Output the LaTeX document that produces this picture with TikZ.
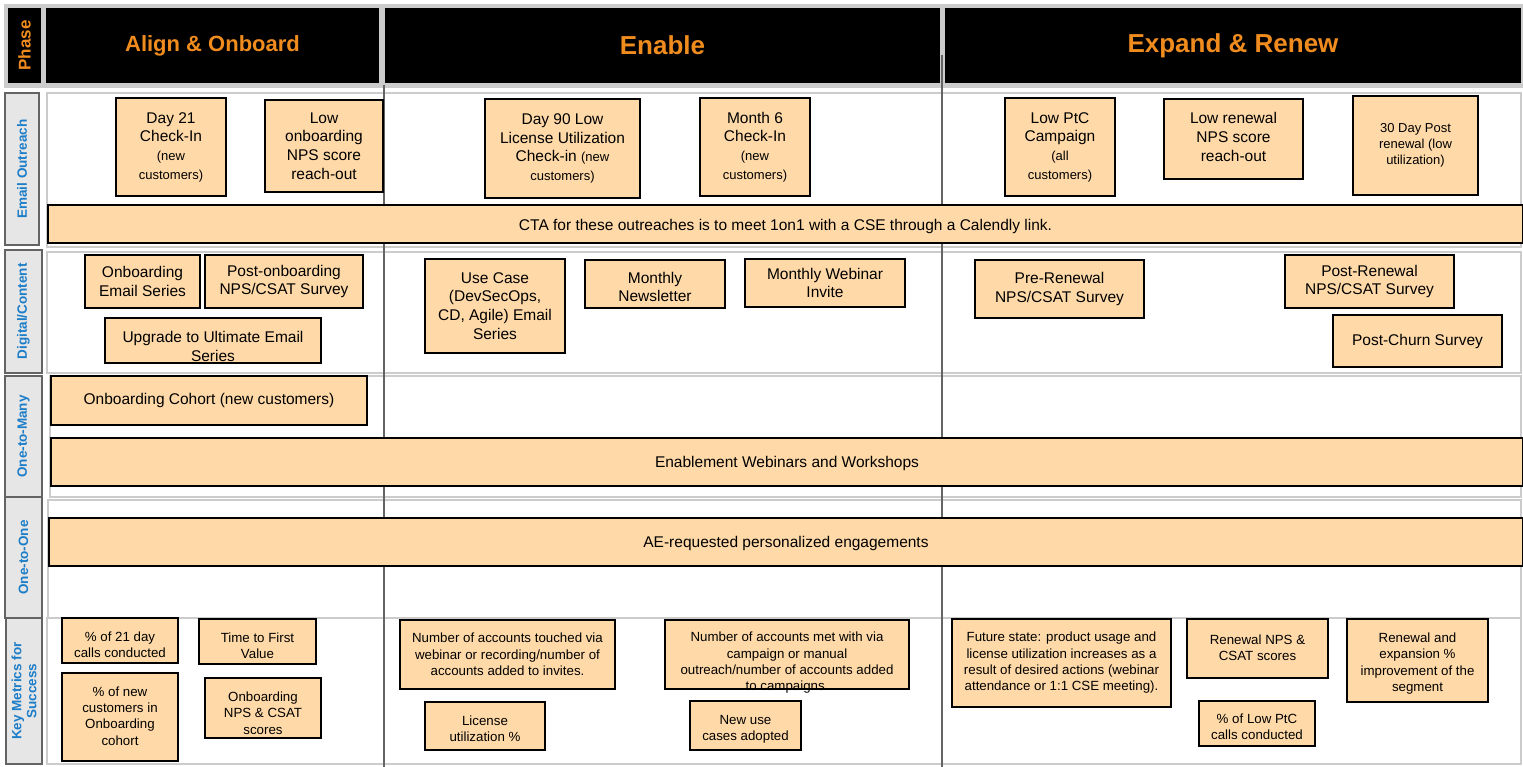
\documentclass[tikz,border=0pt]{standalone}
\usepackage{fontspec}
\setmainfont{Liberation Sans}
\usetikzlibrary{fit}
\definecolor{peach}{RGB}{255,218,168}
\definecolor{hdrorange}{RGB}{240,140,30}
\definecolor{laneblue}{RGB}{28,125,200}
\definecolor{framegray}{RGB}{204,204,204}
\definecolor{linegray}{RGB}{100,100,100}
\definecolor{lanefill}{RGB}{230,230,230}
\newcommand\txA{\fontsize{15.5}{18.7}\selectfont}
\newcommand\txS{\fontsize{13}{16}\selectfont}
\newcommand\txK{\fontsize{13.3}{16.3}\selectfont}
\newcommand\bx[7]{%
  \node[box, fit={(#2,#3) (#4,#5)}] (#1) {};
  \node[txt,#6] (#1-t) at (#1.center) {#7};}
\begin{document}
\begin{tikzpicture}[x=1pt,y=-1pt,
  box/.style={draw=black, fill=peach, line width=1.1pt, inner sep=0pt},
  txt/.style={align=center, inner sep=0pt, font=\txA},
  hdrcell/.style={fill=black, inner sep=0pt},
  hdrtxt/.style={text=hdrorange, font=\bfseries\fontsize{26}{30}\selectfont, inner sep=0pt},
  lanelbl/.style={draw=linegray, fill=lanefill, line width=2.2pt, inner sep=0pt},
  lanetxt/.style={text=laneblue, font=\bfseries\fontsize{13.5}{15}\selectfont, rotate=90, align=center, inner sep=0pt},
  frame/.style={draw=framegray, line width=2.4pt},
  vline/.style={draw=linegray, line width=1.8pt}]
\useasboundingbox (0,0) rectangle (1523,767);
\fill[white] (0,0) rectangle (1523,767);
% header
\fill[framegray] (4,4) rectangle (1523,88);
\node[hdrcell, fit={(8,8) (41,83)}] (phasecell) {};
\node[hdrtxt, font=\bfseries\fontsize{17}{20}\selectfont, rotate=90] (phase-t) at (phasecell) {Phase};
\node[hdrcell, fit={(46,8) (379,83)}] (aligncell) {};
\node[hdrtxt, font=\bfseries\fontsize{22}{26}\selectfont] (align-t) at (aligncell) {Align \& Onboard};
\node[hdrcell, fit={(385,8) (940,83)}] (enablecell) {};
\node[hdrtxt] (enable-t) at (enablecell) {Enable};
\node[hdrcell, fit={(945,8) (1521,83)}] (expandcell) {};
\node[hdrtxt] (expand-t) at (expandcell) {Expand \& Renew};
% lane frames
\draw[frame] (47,93) rectangle (1521,247);
\draw[frame] (47,252) rectangle (1521,373);
\draw[frame] (50,376) rectangle (1521,497);
\draw[frame] (48,500) rectangle (1521,618);
\draw[frame] (47,618) rectangle (1521,764);
% lane labels
\node[lanelbl, fit={(5,93) (39,245)}] (lane1) {};
\node[lanetxt] (lane1-t) at (lane1) {Email Outreach};
\node[lanelbl, fit={(5,250) (42,373)}] (lane2) {};
\node[lanetxt] (lane2-t) at (lane2) {Digital/Content};
\node[lanelbl, fit={(5,376) (42,497)}] (lane3) {};
\node[lanetxt] (lane3-t) at (lane3) {One-to-Many};
\node[lanelbl, fit={(5,497) (42,618)}] (lane4) {};
\node[lanetxt] (lane4-t) at (lane4) {One-to-One};
\node[lanelbl, fit={(6,618) (42,764)}] (lane5) {};
\node[lanetxt] (lane5-t) at (lane5) {Key Metrics for\\Success};
% phase separators
\draw[vline] (384,85) -- (384,767);
\draw[vline] (942,55) -- (942,767);
% email outreach
\bx{d21}{116}{98}{226}{196}{}{Day 21\\Check-In\\{\txS(new}\\{\txS customers)}}
\bx{lowob}{265}{100}{383}{192}{}{Low\\onboarding\\NPS score\\reach-out}
\bx{d90}{485}{99}{640}{198}{}{Day 90 Low\\License Utilization\\Check-in {\txS(new}\\{\txS customers)}}
\bx{m6}{700}{98}{810}{196}{}{Month 6\\Check-In\\{\txS(new}\\{\txS customers)}}
\bx{ptc}{1005}{98}{1115}{196}{}{Low PtC\\Campaign\\{\txS(all}\\{\txS customers)}}
\bx{lowren}{1164}{99}{1303}{179}{yshift=2pt}{Low renewal\\NPS score\\reach-out}
\bx{post30}{1353}{96}{1478}{195}{font=\txS}{30 Day Post\\renewal (low\\utilization)}
\bx{cta}{48}{205}{1523}{243}{yshift=-2pt}{CTA for these outreaches is to meet 1on1 with a CSE through a Calendly link.}
% digital / content
\bx{obes}{85}{255}{200}{308}{}{Onboarding\\Email Series}
\bx{postob}{205}{255}{363}{308}{}{Post-onboarding\\NPS/CSAT Survey}
\bx{upg}{105}{318}{321}{363}{yshift=-6pt}{Upgrade to Ultimate Email\\Series}
\bx{usecase}{425}{259}{565}{353}{}{Use Case\\(DevSecOps,\\CD, Agile) Email\\Series}
\bx{news}{585}{260}{725}{308}{yshift=-3pt}{Monthly\\Newsletter}
\bx{webinv}{745}{259}{905}{307}{}{Monthly Webinar\\Invite}
\bx{prerenew}{975}{260}{1144}{318}{}{Pre-Renewal\\NPS/CSAT Survey}
\bx{postrenew}{1285}{255}{1454}{308}{}{Post-Renewal\\NPS/CSAT Survey}
\bx{churn}{1333}{315}{1502}{367}{}{Post-Churn Survey}
% one-to-many / one-to-one
\bx{cohort}{51}{376}{367}{425}{}{Onboarding Cohort (new customers)}
\bx{enable}{51}{438}{1523}{486}{yshift=-1pt}{Enablement Webinars and Workshops}
\bx{ae}{49}{518}{1523}{566}{yshift=-1pt}{AE-requested personalized engagements}
% key metrics
\bx{k21}{62}{618}{178}{663}{font=\txK, yshift=-4.5pt}{\% of 21 day\\calls conducted}
\bx{ttfv}{199}{619}{316}{664}{font=\txK, yshift=-4pt}{Time to First\\Value}
\bx{knew}{62}{673}{178}{761}{font=\txK, yshift=1pt}{\% of new\\customers in\\Onboarding\\cohort}
\bx{obnps}{205}{678}{321}{738}{font=\txK, yshift=-5pt}{Onboarding\\NPS \& CSAT\\scores}
\bx{touched}{400}{620}{615}{689}{font=\txK}{Number of accounts touched via\\webinar or recording/number of\\accounts added to invites.}
\bx{lic}{425}{702}{545}{750}{font=\txK, yshift=-3pt}{License\\utilization \%}
\bx{newuse}{690}{701}{801}{750}{font=\txK, yshift=-3.5pt}{New use\\cases adopted}
\bx{future}{952}{619}{1171}{707}{font=\txK}{Future state: product usage and\\license utilization increases as a\\result of desired actions (webinar\\attendance or 1:1 CSE meeting).}
\bx{rennps}{1187}{619}{1328}{678}{font=\txK, yshift=1pt}{Renewal NPS \&\\CSAT scores}
\bx{renexp}{1347}{619}{1488}{702}{font=\txK, yshift=-3pt}{Renewal and\\expansion \%\\improvement of the\\segment}
\bx{lowptc}{1199}{701}{1315}{746}{font=\txK, yshift=-3.5pt}{\% of Low PtC\\calls conducted}
\node[box, fit={(665,620) (909,689)}] (metwith) {};
\node[txt, font=\txK] (metwith-t) at (787,663) {Number of accounts met with via\\campaign or manual\\outreach/number of accounts added\\to campaigns.};
\draw[line width=1.1pt] (metwith.south west) -- (metwith.south east);
\end{tikzpicture}
\end{document}
